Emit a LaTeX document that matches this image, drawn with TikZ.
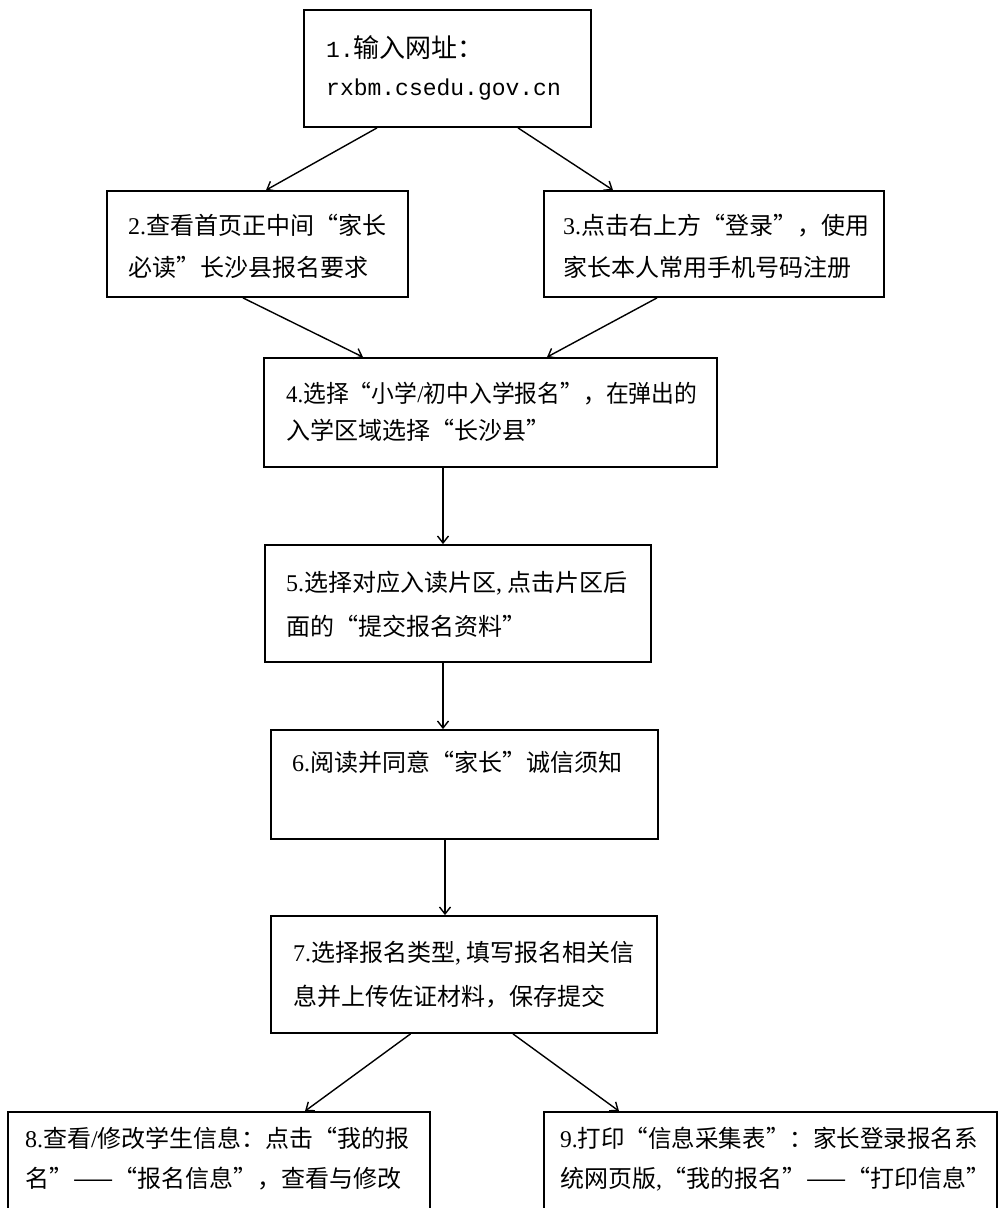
\documentclass[tikz,border=0pt]{standalone}
\usepackage{fontspec}
\usepackage{graphicx}
\setmainfont{Liberation Serif}
\newfontfamily\cjk{Noto Sans CJK SC}
\newfontfamily\monof{Liberation Mono}
\usetikzlibrary{arrows.meta}
\newcommand\latn[1]{{\rmfamily #1}}
\begin{document}
\begin{tikzpicture}[x=1pt,y=-1pt,
  box/.style={draw, line width=1.8pt, inner sep=0pt},
  txt/.style={anchor=base west, inner sep=0pt, font=\cjk\fontsize{24}{24}\selectfont},
  arr/.style={line width=1.4pt, -{Straight Barb[length=7pt,width=11pt]}}]
\useasboundingbox (0,0) rectangle (998,1208);
\clip (0,0) rectangle (998,1208);
\fill[white] (0,0) rectangle (998,1208);
% boxes
\node[box, minimum width=287pt, minimum height=117pt] (b1) at (447.5,68.5) {};
\node[box, minimum width=301pt, minimum height=106pt] (b2) at (257.5,244) {};
\node[box, minimum width=340pt, minimum height=106pt] (b3) at (714,244) {};
\node[box, minimum width=453pt, minimum height=109pt] (b4) at (490.5,412.5) {};
\node[box, minimum width=386pt, minimum height=117pt] (b5) at (458,603.5) {};
\node[box, minimum width=387pt, minimum height=109pt] (b6) at (464.5,784.5) {};
\node[box, minimum width=386pt, minimum height=117pt] (b7) at (464,974.5) {};
\node[box, minimum width=422pt, minimum height=116pt] (b8) at (219,1170) {};
\node[box, minimum width=453pt, minimum height=116pt] (b9) at (770.5,1170) {};
% texts
\node[txt, font=\cjk\fontsize{26}{26}\selectfont] (t1a) at (326,57) {{\monof\fontsize{23}{23}\selectfont 1.}输入网址：};
\node[txt] (t1b) at (326,95) {\monof\fontsize{23}{23}\selectfont rxbm.csedu.gov.cn};
\node[txt] (t2a) at (128,234) {\latn{2.}查看首页正中间“家长};
\node[txt] (t2b) at (128,276) {必读”长沙县报名要求};
\node[txt] (t3a) at (563,234) {\latn{3.}点击右上方“登录”，使用};
\node[txt] (t3b) at (563,276) {家长本人常用手机号码注册};
\node[txt] (t4a) at (286,402) {\scalebox{0.95}[1]{\latn{4.}选择“小学\latn{/}初中入学报名”，在弹出的}};
\node[txt] (t4b) at (286,439) {入学区域选择“长沙县”};
\node[txt] (t5a) at (286,591) {\latn{5.}选择对应入读片区\latn{,} 点击片区后};
\node[txt] (t5b) at (286,635) {面的“提交报名资料”};
\node[txt] (t6a) at (292,771) {\latn{6.}阅读并同意“家长”诚信须知};
\node[txt] (t7a) at (293,961) {\latn{7.}选择报名类型\latn{,} 填写报名相关信};
\node[txt] (t7b) at (293,1005) {息并上传佐证材料，保存提交};
\node[txt] (t8a) at (25,1147) {\latn{8.}查看\latn{/}修改学生信息：点击“我的报};
\node[txt] (t8b) at (25,1187) {名”——“报名信息”，查看与修改};
\node[txt] (t9a) at (560,1147) {\scalebox{0.98}[1]{\latn{9.}打印“信息采集表”：家长登录报名系}};
\node[txt] (t9b) at (560,1187) {统网页版\latn{,}“我的报名”——“打印信息”};
% arrows
\draw[arr] ([xshift=-70.5pt]b1.south) -- ([xshift=8.5pt]b2.north);
\draw[arr] ([xshift=70.5pt]b1.south) -- ([xshift=-101pt]b3.north);
\draw[arr] ([xshift=-14.5pt]b2.south) -- ([xshift=-127.5pt]b4.north);
\draw[arr] ([xshift=-57pt]b3.south) -- ([xshift=56.5pt]b4.north);
\draw[arr] ([xshift=-47.5pt]b4.south) -- ([xshift=-15pt]b5.north);
\draw[arr] ([xshift=-15pt]b5.south) -- ([xshift=-21.5pt]b6.north);
\draw[arr] ([xshift=-19.5pt]b6.south) -- ([xshift=-19pt]b7.north);
\draw[arr] ([xshift=-53.5pt]b7.south) -- ([xshift=86pt]b8.north);
\draw[arr] ([xshift=49pt]b7.south) -- ([xshift=-151.5pt]b9.north);
\end{tikzpicture}
\end{document}
